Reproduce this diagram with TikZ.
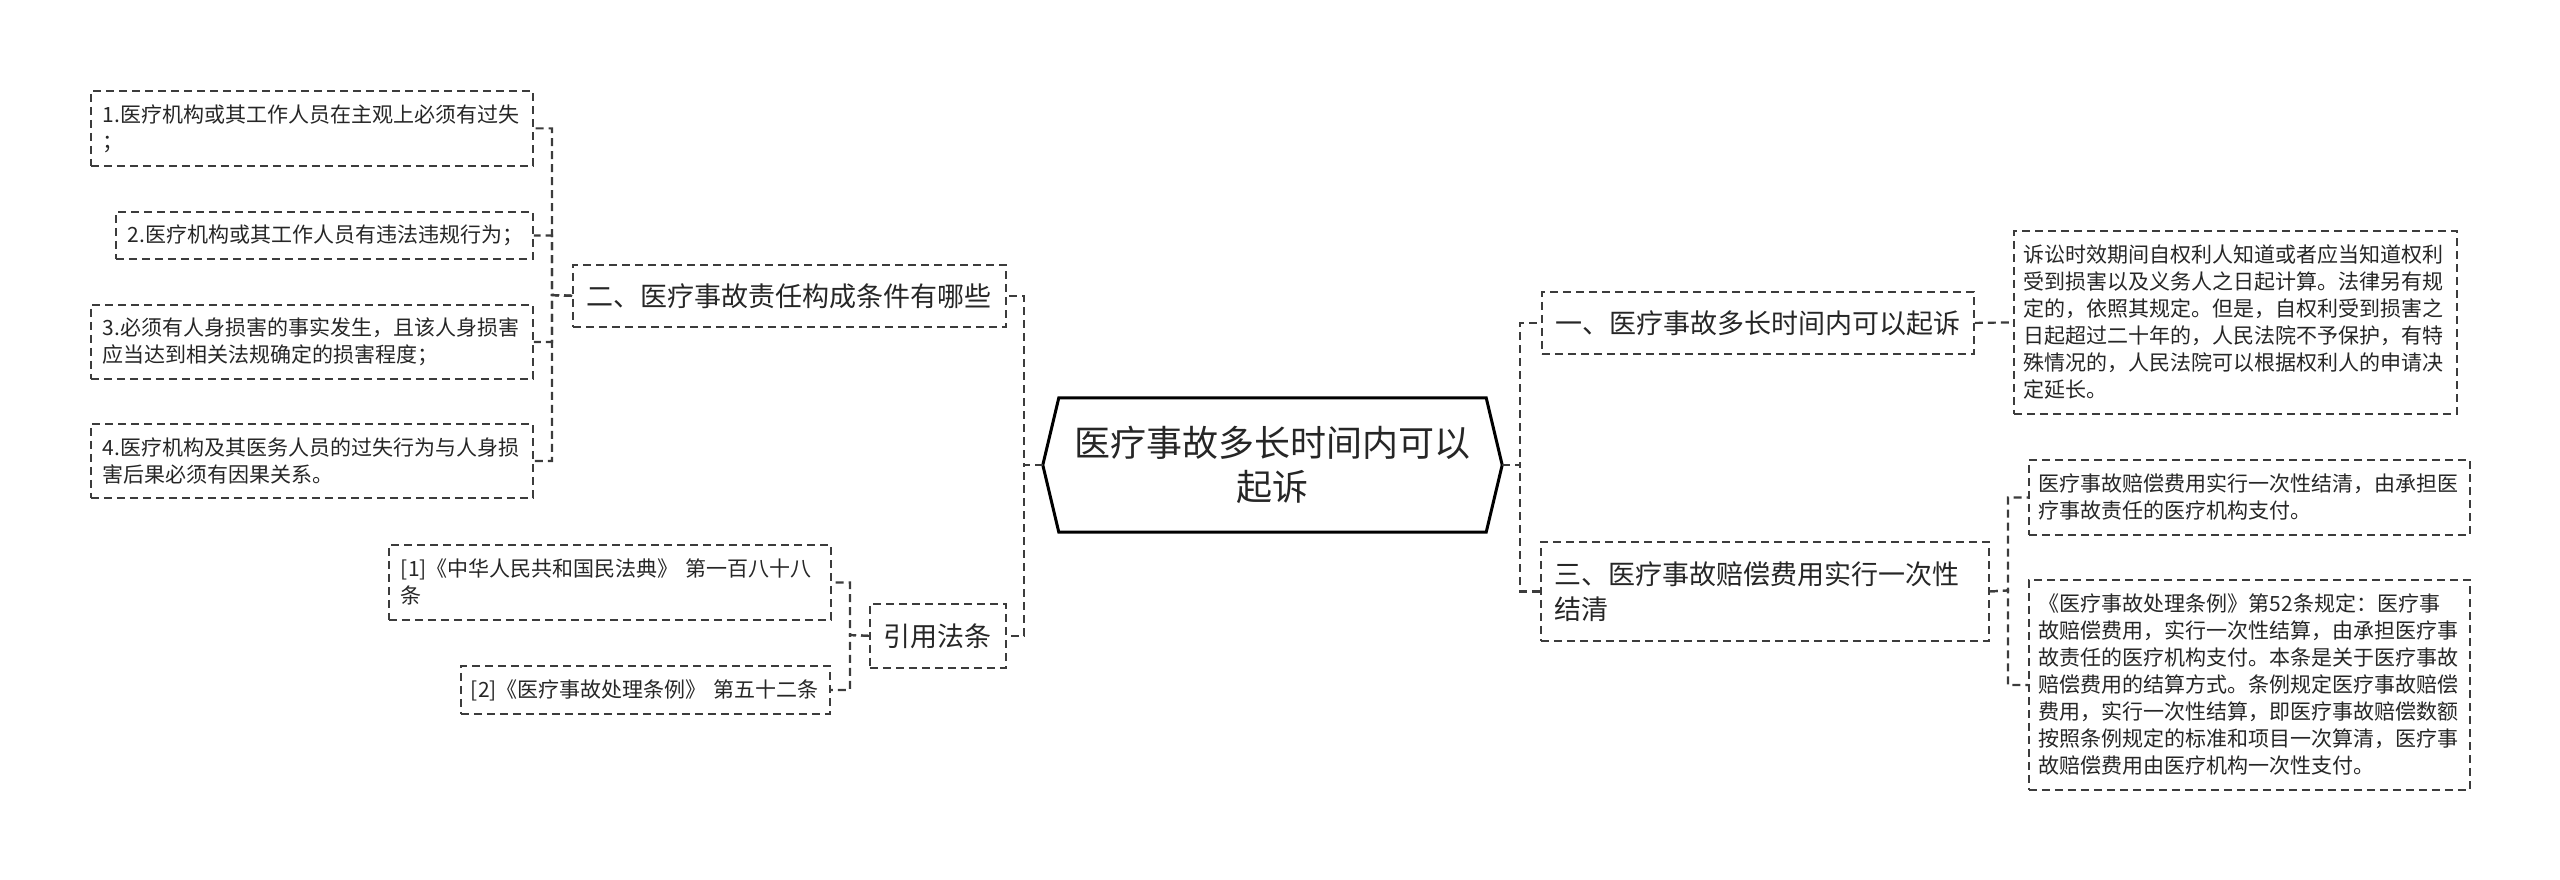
\documentclass[tikz,border=0pt]{standalone}
\usepackage{fontspec}
\newfontfamily\cjk{Noto Sans CJK SC}
\definecolor{linegray}{HTML}{3C3C3C}
\definecolor{textgray}{HTML}{262626}
\newcommand{\leaffont}{\cjk\fontsize{21}{27}\selectfont}
\newcommand{\branchfont}{\cjk\fontsize{27}{35}\selectfont}
\newcommand{\rootfont}{\cjk\fontsize{36}{44}\selectfont}

\begin{document}
\begin{tikzpicture}[x=1pt,y=-1pt,
  box/.style={draw=linegray,dash pattern=on 8pt off 5pt,line width=1.8pt,anchor=north west,
    inner xsep=12pt,inner ysep=0pt,align=left,text=textgray},
  leaf/.style={box,font=\leaffont},
  branch/.style={box,font=\branchfont,inner xsep=14pt},
  link/.style={draw=linegray,dash pattern=on 8pt off 5pt,line width=2.2pt}]
  \useasboundingbox (0,0) rectangle (2560,880);

  \node[font=\rootfont,align=center,minimum width=459pt,minimum height=134pt,text=textgray] (root) at (1272.5,465) {医疗事故多长时间内可以\\起诉};
  \draw[line width=3pt] ([xshift=16pt]root.north west) -- ([xshift=-16pt]root.north east) -- (root.east)
    -- ([xshift=-16pt]root.south east) -- ([xshift=16pt]root.south west) -- (root.west) -- cycle;

  % left
  \node[branch,minimum width=433pt,minimum height=62pt,text width=405pt] (cond) at (572,264) {二、医疗事故责任构成条件有哪些};
  \node[branch,minimum width=136pt,minimum height=64pt,text width=108pt] (law) at (869,603) {引用法条};

  \node[leaf,minimum width=442pt,minimum height=75pt,text width=418pt] (c1) at (90,90) {1.医疗机构或其工作人员在主观上必须有过失\\；};
  \node[leaf,minimum width=417pt,minimum height=47pt,text width=393pt] (c2) at (115,211) {2.医疗机构或其工作人员有违法违规行为；};
  \node[leaf,minimum width=442pt,minimum height=74pt,text width=418pt] (c3) at (90,304) {3.必须有人身损害的事实发生，且该人身损害\\应当达到相关法规确定的损害程度；};
  \node[leaf,minimum width=442pt,minimum height=74pt,text width=418pt] (c4) at (90,423) {4.医疗机构及其医务人员的过失行为与人身损\\害后果必须有因果关系。};

  \node[leaf,minimum width=442pt,minimum height=75pt,text width=418pt] (l1) at (388,544) {[1]《中华人民共和国民法典》~第一百八十八\\条};
  \node[leaf,inner xsep=10pt,minimum width=369pt,minimum height=48pt,text width=349pt] (l2) at (460,665) {[2]《医疗事故处理条例》~第五十二条};

  % right
  \node[branch,minimum width=432pt,minimum height=62pt,text width=404pt] (when) at (1541,291) {一、医疗事故多长时间内可以起诉};
  \node[branch,minimum width=448pt,minimum height=99pt,text width=420pt] (pay) at (1540,541) {三、医疗事故赔偿费用实行一次性\\结清};

  \node[leaf,inner xsep=10pt,minimum width=443pt,minimum height=183pt,text width=423pt] (w1) at (2013,230)
    {诉讼时效期间自权利人知道或者应当知道权利\\受到损害以及义务人之日起计算。法律另有规\\定的，依照其规定。但是，自权利受到损害之\\日起超过二十年的，人民法院不予保护，有特\\殊情况的，人民法院可以根据权利人的申请决\\定延长。};
  \node[leaf,inner xsep=10pt,minimum width=441pt,minimum height=75pt,text width=421pt] (p1) at (2028,459)
    {医疗事故赔偿费用实行一次性结清，由承担医\\疗事故责任的医疗机构支付。};
  \node[leaf,inner xsep=10pt,minimum width=441pt,minimum height=210pt,text width=421pt] (p2) at (2028,579)
    {《医疗事故处理条例》第52条规定：医疗事\\故赔偿费用，实行一次性结算，由承担医疗事\\故责任的医疗机构支付。本条是关于医疗事故\\赔偿费用的结算方式。条例规定医疗事故赔偿\\费用，实行一次性结算，即医疗事故赔偿数额\\按照条例规定的标准和项目一次算清，医疗事\\故赔偿费用由医疗机构一次性支付。};

  \coordinate (lt) at (1024,465);
  \coordinate (rt) at (1520,465);
  \coordinate (condt) at (552,295);
  \coordinate (lawt) at (850,635);
  \coordinate (payt) at (2008,590.5);

  \draw[link] (root.west) -- (lt) |- (cond.east);
  \draw[link] (root.west) -- (lt) |- (law.east);
  \foreach \c in {c1,c2,c3,c4}
    \draw[link] (cond.west) -- (condt) |- (\c.east);
  \foreach \c in {l1,l2}
    \draw[link] (law.west) -- (lawt) |- (\c.east);

  \draw[link] (root.east) -- (rt) |- (when.west);
  \draw[link] (root.east) -- (rt) |- (pay.west);
  \draw[link] (when.east) -- (w1.west);
  \foreach \c in {p1,p2}
    \draw[link] (pay.east) -- (payt) |- (\c.west);
\end{tikzpicture}
\end{document}
